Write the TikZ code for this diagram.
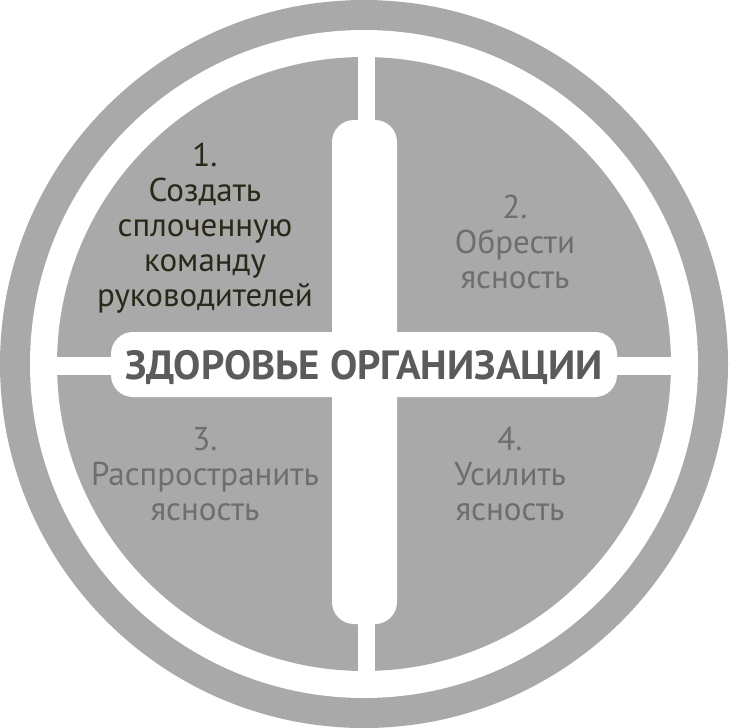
\documentclass[tikz,border=0pt]{standalone}
\usepackage{fontspec}
\setmainfont{PT Sans}
\definecolor{diskgray}{HTML}{A9A9A9}
\definecolor{darktext}{HTML}{2A2818}
\definecolor{midtext}{HTML}{6E6E6E}
\definecolor{titletext}{HTML}{5B5B5B}
\tikzset{
  quadtext/.style={align=center, font=\fontsize{33}{35}\selectfont, inner sep=0pt},
  titlestyle/.style={font=\bfseries\fontsize{40.8}{44}\selectfont, text=titletext, inner sep=0pt},
  whitebar/.style={fill=white, rounded corners=22pt}
}
\begin{document}
\begin{tikzpicture}[x=1pt,y=-1pt]
\useasboundingbox (0,0) rectangle (728,728);
\fill[diskgray] (364,364) circle (364);
\fill[white] (364,364) circle (334);
\fill[diskgray] (364,364) circle (307);
\fill[white] (357.5,44) rectangle (375,684);
\fill[white] (44,356.5) rectangle (684,375);
\fill[whitebar] (332,120) rectangle (397,624);
\fill[whitebar] (111,332) rectangle (617,397);
\node[titlestyle] (title) at (364,367) {ЗДОРОВЬЕ ОРГАНИЗАЦИИ};
\node[quadtext, text=darktext] (q1) at (205,228) {1.\\Создать\\сплоченную\\команду\\руководителей};
\node[quadtext, text=midtext] (q2) at (515,242) {2.\\Обрести\\ясность};
\node[quadtext, text=midtext] (q3) at (205,474) {3.\\Распространить\\ясность};
\node[quadtext, text=midtext] (q4) at (510,474) {4.\\Усилить\\ясность};
\end{tikzpicture}
\end{document}
